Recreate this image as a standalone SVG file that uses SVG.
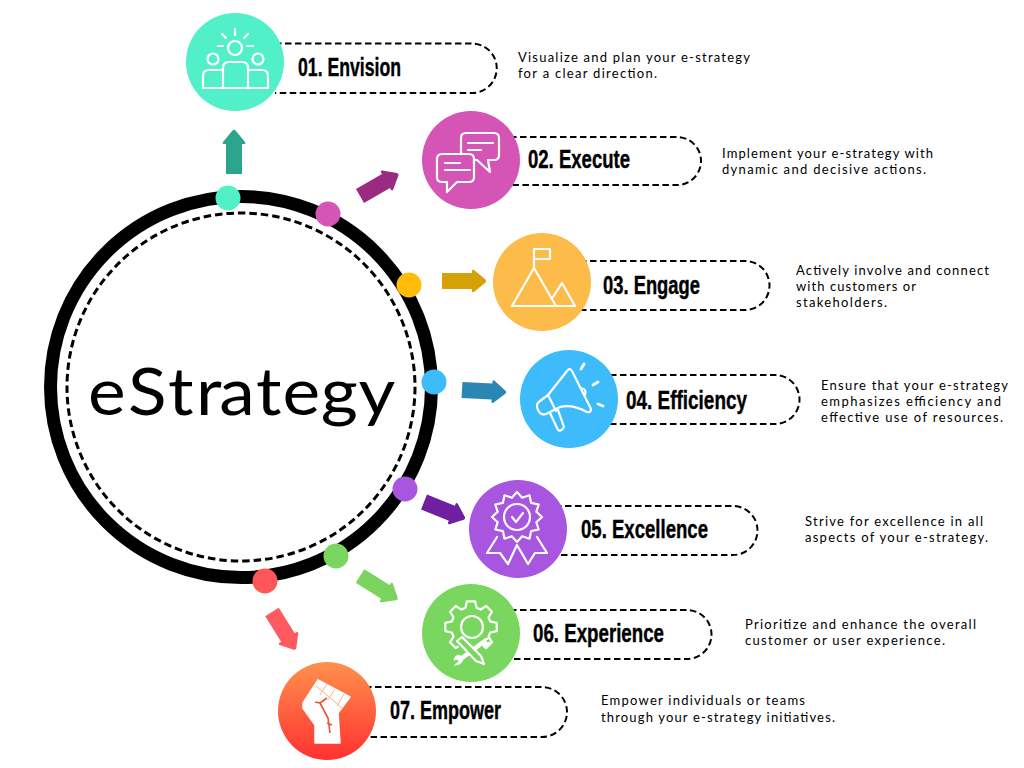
<svg xmlns="http://www.w3.org/2000/svg" width="1024" height="768" viewBox="0 0 1024 768">
<style>
.pill{fill:none;stroke:#000;stroke-width:2;stroke-dasharray:6.5 3.5}
.ico{fill:none;stroke:#fff;stroke-width:2.200;stroke-linejoin:round;stroke-linecap:round}
.lab{font-family:"Liberation Sans Narrow","Liberation Sans",sans-serif;font-weight:700;font-size:25px;fill:#000;stroke:#000;stroke-width:.4}
.desc{font-family:"Lato","Liberation Sans",sans-serif;font-size:13px;fill:#000}
</style>
<defs>
<path id="arrow" d="M0-8H30V-10Q30-12 32-11L43.500-1.500Q45 0 43.500 1.500L32 11Q30 12 30 10V8H0Z"/>
<linearGradient id="fistbg" x1="0" y1="0" x2="0" y2="1"><stop offset="0" stop-color="#FF914D"/><stop offset="1" stop-color="#FF3131"/></linearGradient>
</defs>
<rect width="1024" height="768" fill="#fff"/>
<g id="hub">
<circle cx="241" cy="387" r="190.500" fill="none" stroke="#000" stroke-width="13"/>
<circle cx="241" cy="387" r="174" fill="none" stroke="#000" stroke-width="3" stroke-dasharray="7.500 4"/>
<text transform="translate(0 415) scale(1.08 1)" x="81.500 118.500 155.500 181.500 203 237 261.500 297 332" y="0" font-family="Lato,'Liberation Sans',sans-serif" font-weight="400" font-size="66" fill="#000">eStrategy</text>
</g>
<g id="connectors">
<use href="#arrow" fill="#2CA58D" transform="translate(234 174) rotate(-90)"/>
<use href="#arrow" fill="#9B2A82" transform="translate(360 196) rotate(-30)"/>
<use href="#arrow" fill="#D4A106" transform="translate(442 281)"/>
<use href="#arrow" fill="#2A86B2" transform="translate(462 390) rotate(3)"/>
<use href="#arrow" fill="#6F1FA0" transform="translate(424 502) rotate(22)"/>
<use href="#arrow" fill="#7AD45E" transform="translate(360 576) rotate(32)"/>
<use href="#arrow" fill="#FF5A5F" transform="translate(272 612) rotate(58)"/>
<circle cx="228" cy="198" r="12.500" fill="#52F0C8"/>
<circle cx="328" cy="214" r="12.500" fill="#D455B5"/>
<circle cx="409" cy="285" r="12.500" fill="#FFBD0A"/>
<circle cx="434" cy="382" r="12.500" fill="#3DBBFB"/>
<circle cx="405" cy="489" r="12.500" fill="#A855E0"/>
<circle cx="336" cy="556" r="12.500" fill="#79D75F"/>
<circle cx="265" cy="581" r="12.500" fill="#FF5757"/>
</g>
<g id="node-01">
<path class="pill" d="M275 43.500H472A24.750 24.750 0 0 1 472 93H275"/>
<circle cx="235" cy="62" r="49" fill="#52F0C8"/>
<g class="ico">
<circle cx="235" cy="48" r="7"/><circle cx="213" cy="59" r="5.500"/><circle cx="258" cy="59" r="5.500"/>
<path d="M223 88V68Q223 62 229 62H242Q248 62 248 68V88ZM223 70H209Q203 70 203 76V88H223M248 70H262Q268 70 268 76V88H248"/>
<path d="M235 29V35M222 34L226 38M248 34L244 38M218 46H223M247 46H253"/>
</g>
<text class="lab" x="298" y="76" textLength="103" lengthAdjust="spacingAndGlyphs">01. Envision</text>
<text class="desc" x="518" y="62" textLength="232" lengthAdjust="spacing">Visualize and plan your e-strategy</text>
<text class="desc" x="518" y="78" textLength="139" lengthAdjust="spacing">for a clear direction.</text>
</g>
<g id="node-02">
<path class="pill" d="M510 137H677A24 24 0 0 1 677 185H510"/>
<circle cx="471" cy="160" r="49" fill="#D455B5"/>
<g class="ico">
<path d="M466 133H494Q499 133 499 138V155Q499 160 494 160H488L490 172L477 160H466Q461 160 461 155V138Q461 133 466 133Z" fill="#D455B5"/>
<path d="M442 154H469Q474 154 474 159V177Q474 182 469 182H457L447 192V182H442Q437 182 437 177V159Q437 154 442 154Z" fill="#D455B5"/>
<path d="M468 143H493M468 150H481M445 163H460M445 170H470"/>
</g>
<text class="lab" x="528" y="168" textLength="102" lengthAdjust="spacingAndGlyphs">02. Execute</text>
<text class="desc" x="722" y="158" textLength="211" lengthAdjust="spacing">Implement your e-strategy with</text>
<text class="desc" x="722" y="174" textLength="204" lengthAdjust="spacing">dynamic and decisive actions.</text>
</g>
<g id="node-03">
<path class="pill" d="M580 261H745A24.500 24.500 0 0 1 745 310H580"/>
<circle cx="542" cy="282" r="49" fill="#FDBB4A"/>
<g class="ico">
<path d="M534 268V249H550V259H534M512 306L534 268L556 306ZM553 297L562 283L575 306H556"/>
</g>
<text class="lab" x="603" y="294" textLength="97" lengthAdjust="spacingAndGlyphs">03. Engage</text>
<text class="desc" x="796" y="275" textLength="193" lengthAdjust="spacing">Actively involve and connect</text>
<text class="desc" x="796" y="291" textLength="120" lengthAdjust="spacing">with customers or</text>
<text class="desc" x="796" y="307" textLength="91" lengthAdjust="spacing">stakeholders.</text>
</g>
<g id="node-04">
<path class="pill" d="M610 375H775A24.500 24.500 0 0 1 775 424H610"/>
<circle cx="569" cy="399" r="49" fill="#3DBBFB"/>
<g class="ico">
<path d="M548 395L567 371Q570 367 572 371L591 409Q591 413 587 412Q572 404 560 407L546 414Q541 416 538 410Q535 404 540 401Z"/>
<path d="M550 413L558 430Q561 432 564 427L558 410M548 395L556 411M581 388Q587 389 585 395"/>
<path d="M584 364L581 369M598 382L593 385M603 406L598 404" stroke-width="2.800"/>
</g>
<text class="lab" x="626" y="409" textLength="121" lengthAdjust="spacingAndGlyphs">04. Efficiency</text>
<text class="desc" x="821" y="390" textLength="187" lengthAdjust="spacing">Ensure that your e-strategy</text>
<text class="desc" x="821" y="406" textLength="180" lengthAdjust="spacing">emphasizes efficiency and</text>
<text class="desc" x="821" y="422" textLength="182" lengthAdjust="spacing">effective use of resources.</text>
</g>
<g id="node-05">
<path class="pill" d="M555 506H733A24.500 24.500 0 0 1 733 555H555"/>
<circle cx="518" cy="529" r="49" fill="#A855E0"/>
<g class="ico">
<path d="M497 537L487 553H500L508 564L517 545L528 564L535 553H547L537 537"/>
<polygon transform="translate(517 517)" fill="#A855E0" points="25,0 19.300,5.200 21.700,12.500 14.100,14.100 12.500,21.700 5.200,19.300 0,25 -5.200,19.300 -12.500,21.700 -14.100,14.100 -21.700,12.500 -19.300,5.200 -25,0 -19.300,-5.200 -21.700,-12.500 -14.100,-14.100 -12.500,-21.700 -5.200,-19.300 0,-25 5.200,-19.300 12.500,-21.700 14.100,-14.100 21.700,-12.500 19.300,-5.200"/>
<circle cx="517" cy="517" r="13"/>
<path d="M512 517L516 522L523 513"/>
</g>
<text class="lab" x="581" y="538" textLength="127" lengthAdjust="spacingAndGlyphs">05. Excellence</text>
<text class="desc" x="805" y="526" textLength="178" lengthAdjust="spacing">Strive for excellence in all</text>
<text class="desc" x="805" y="542" textLength="183" lengthAdjust="spacing">aspects of your e-strategy.</text>
</g>
<g id="node-06">
<path class="pill" d="M510 610H687A24.500 24.500 0 0 1 687 659H510"/>
<circle cx="471" cy="633" r="49" fill="#79D75F"/>
<g class="ico">
<polygon transform="translate(471 627)" points="19.200,-5.500 25.700,-4.100 25.700,4.100 19.200,5.500 17.500,9.700 21,15.300 15.300,21 9.700,17.500 5.500,19.200 4.100,25.700 -4.100,25.700 -5.500,19.200 -9.700,17.500 -15.300,21 -21,15.300 -17.500,9.700 -19.200,5.500 -25.700,4.100 -25.700,-4.100 -19.200,-5.500 -17.500,-9.700 -21,-15.300 -15.300,-21 -9.700,-17.500 -5.500,-19.200 -4.100,-25.700 4.100,-25.700 5.500,-19.200 9.700,-17.500 15.300,-21 21,-15.300 17.500,-9.700"/>
<circle cx="472" cy="627" r="11"/>
<path d="M483 640L460 660M459 640L482 662" stroke="#79D75F" stroke-width="10"/>
<path d="M482 643L462 658" stroke-width="4.500"/>
<path d="M457 641L462 637L481 656L484 664L476 661Z" fill="#79D75F"/>
<path d="M489 638Q481 638 482 645L487 647Q491 645 491 642L487 643L486 641Z" fill="#fff" stroke-width="1"/>
<path d="M455 665Q463 665 463 657L458 655Q454 657 454 660L458 659L459 661Z" fill="#fff" stroke-width="1"/>
</g>
<text class="lab" x="533" y="642" textLength="131" lengthAdjust="spacingAndGlyphs">06. Experience</text>
<text class="desc" x="745" y="629" textLength="231" lengthAdjust="spacing">Prioritize and enhance the overall</text>
<text class="desc" x="745" y="645" textLength="200" lengthAdjust="spacing">customer or user experience.</text>
</g>
<g id="node-07">
<path class="pill" d="M365 687H542A25 25 0 0 1 542 737H365"/>
<circle cx="327" cy="711" r="49" fill="url(#fistbg)"/>
<path fill="#fff" stroke="#fff" stroke-width="1.500" stroke-linejoin="round" d="M303 703L318 680L350 697L338 713L340 743L315 743L315 725L303 708Z"/>
<path fill="none" stroke="#FFB08A" stroke-width="1" d="M327 684L320 695M335 689L328 700M344 694L337 706M316 686L342 708"/>
<path fill="none" stroke="#E8552F" stroke-width="1.600" stroke-linejoin="round" d="M315 702L320 703L327 698M320 703L328 718L330 733M327 723L332 725"/>
<text class="lab" x="390" y="719" textLength="111" lengthAdjust="spacingAndGlyphs">07. Empower</text>
<text class="desc" x="601" y="705" textLength="204" lengthAdjust="spacing">Empower individuals or teams</text>
<text class="desc" x="601" y="722" textLength="234" lengthAdjust="spacing">through your e-strategy initiatives.</text>
</g>
</svg>
